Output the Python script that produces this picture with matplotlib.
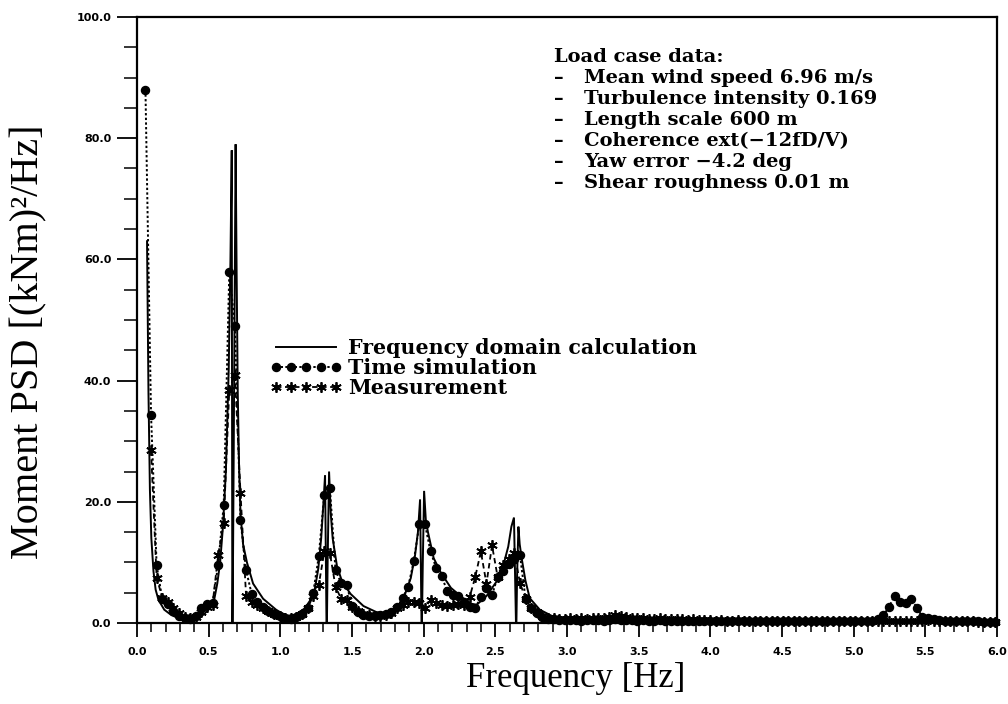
import numpy as np
import matplotlib
matplotlib.use("Agg")
import matplotlib.pyplot as plt
from matplotlib.ticker import MultipleLocator, FormatStrFormatter
from matplotlib.lines import Line2D

# ---------------- data ----------------
# frequency-domain calculation (solid line)
f_fd = [0.070, 0.080, 0.090, 0.100, 0.115, 0.130, 0.150, 0.190, 0.240, 0.290,
        0.350, 0.400, 0.450, 0.500, 0.535, 0.560, 0.580, 0.600, 0.620, 0.640,
        0.652, 0.661, 0.665, 0.667, 0.672, 0.680, 0.688, 0.695, 0.703, 0.712,
        0.722, 0.740, 0.767, 0.810, 0.880, 0.970, 1.040, 1.100, 1.170, 1.210,
        1.240, 1.265, 1.285, 1.300, 1.312, 1.322, 1.325, 1.330, 1.340, 1.352,
        1.365, 1.395, 1.430, 1.490, 1.580, 1.670, 1.760, 1.820, 1.860, 1.910,
        1.940, 1.960, 1.975, 1.985, 1.988, 1.994, 2.003, 2.015, 2.030, 2.070,
        2.120, 2.190, 2.270, 2.330, 2.370, 2.440, 2.510, 2.550, 2.590, 2.612,
        2.630, 2.644, 2.647, 2.652, 2.661, 2.670, 2.685, 2.710, 2.740, 2.810,
        2.900, 3.000, 3.300, 3.700, 4.200, 5.000, 5.500, 6.000]
v_fd = [63.0, 38.0, 22.0, 14.0, 8.5, 5.5, 3.8, 2.2, 1.3, 0.8,
        0.5, 0.7, 1.1, 2.2, 3.4, 6.5, 10.0, 16.0, 25.0, 42.0,
        60.0, 78.0, 0.0, 0.0, 18.0, 48.0, 79.0, 58.0, 38.0, 26.0,
        18.0, 13.0, 10.0, 6.5, 4.0, 2.2, 1.2, 1.3, 2.4, 3.8,
        5.5, 9.0, 14.0, 19.5, 24.4, 0.0, 0.0, 10.0, 25.0, 18.0,
        14.0, 9.4, 6.9, 4.8, 2.8, 1.8, 1.6, 2.6, 4.1, 7.4,
        11.2, 15.0, 20.4, 0.0, 0.0, 10.0, 21.8, 17.0, 15.0, 10.7,
        8.3, 5.8, 4.2, 3.2, 3.0, 4.5, 6.9, 9.0, 12.6, 15.9,
        17.4, 0.0, 0.0, 8.0, 15.9, 13.0, 10.5, 7.0, 4.1, 2.2,
        1.1, 0.7, 0.5, 0.4, 0.3, 0.3, 0.3, 0.2]

# spectral bins (Hz) shared by time simulation and measurement
f_bins = [0.059, 0.098, 0.137, 0.176, 0.215, 0.254, 0.293, 0.332, 0.371, 0.410,
          0.449, 0.488, 0.527, 0.566, 0.605, 0.644, 0.683, 0.722, 0.761, 0.800,
          0.839, 0.878, 0.917, 0.956, 0.995, 1.034, 1.073, 1.112, 1.151, 1.190,
          1.229, 1.268, 1.307, 1.346, 1.385, 1.424, 1.463, 1.502, 1.541, 1.580,
          1.619, 1.658, 1.697, 1.736, 1.775, 1.814, 1.853, 1.892, 1.931, 1.970,
          2.009, 2.048, 2.087, 2.126, 2.165, 2.204, 2.243, 2.282, 2.321, 2.360,
          2.399, 2.438, 2.477, 2.516, 2.555, 2.594, 2.633, 2.672, 2.711, 2.750,
          2.789, 2.828, 2.867, 2.906, 2.945, 2.984, 3.023, 3.062, 3.101, 3.140,
          3.179, 3.218, 3.257, 3.296, 3.335, 3.374, 3.413, 3.452, 3.491, 3.530,
          3.569, 3.608, 3.647, 3.686, 3.725, 3.764, 3.803, 3.842, 3.881, 3.920,
          3.959, 3.998, 4.037, 4.076, 4.115, 4.154, 4.193, 4.232, 4.271, 4.310,
          4.349, 4.388, 4.427, 4.466, 4.505, 4.544, 4.583, 4.622, 4.661, 4.700,
          4.739, 4.778, 4.817, 4.856, 4.895, 4.934, 4.973, 5.012, 5.051, 5.090,
          5.129, 5.168, 5.207, 5.246, 5.285, 5.324, 5.363, 5.402, 5.441, 5.480,
          5.519, 5.558, 5.597, 5.636, 5.675, 5.714, 5.753, 5.792, 5.831, 5.870,
          5.909, 5.948, 5.987]

# time simulation (dots), one value per bin
v_ts = [88.0, 34.3, 9.5, 4.0, 3.2, 2.0, 1.2, 0.8, 0.7, 1.2,
        2.4, 3.2, 3.3, 9.6, 19.5, 58.0, 49.0, 17.0, 8.7, 4.8,
        3.5, 2.6, 2.0, 1.5, 1.1, 0.8, 0.7, 1.0, 1.5, 2.5,
        4.9, 11.0, 21.2, 22.2, 8.7, 6.6, 6.2, 2.8, 1.8, 1.4,
        1.2, 1.2, 1.3, 1.5, 1.8, 2.6, 4.1, 6.0, 10.2, 16.3,
        16.3, 11.8, 9.1, 7.7, 5.2, 4.7, 4.4, 3.5, 2.7, 2.5,
        4.3, 5.8, 4.6, 7.6, 8.5, 9.8, 10.5, 11.2, 3.9, 2.4,
        1.6, 1.0, 0.7, 0.6, 0.5, 0.5, 0.5, 0.5, 0.4, 0.5,
        0.5, 0.5, 0.4, 0.5, 0.6, 0.5, 0.5, 0.5, 0.4, 0.5,
        0.4, 0.4, 0.5, 0.4, 0.4, 0.4, 0.4, 0.4, 0.3, 0.4,
        0.4, 0.3, 0.4, 0.3, 0.3, 0.4, 0.3, 0.3, 0.3, 0.3,
        0.3, 0.3, 0.3, 0.3, 0.3, 0.3, 0.3, 0.3, 0.3, 0.3,
        0.3, 0.3, 0.3, 0.3, 0.3, 0.3, 0.3, 0.3, 0.3, 0.3,
        0.4, 0.6, 1.3, 2.6, 4.5, 3.4, 3.3, 4.0, 2.5, 1.0,
        0.8, 0.6, 0.5, 0.4, 0.4, 0.3, 0.3, 0.3, 0.3, 0.3,
        0.2, 0.2, 0.2]

# measurement (stars), starts at the second bin
v_ms = [28.5, 7.5, 4.2, 3.5, 2.4, 1.6, 1.0, 0.8, 1.0, 1.8,
        2.6, 3.0, 11.2, 16.5, 38.5, 41.0, 21.5, 4.5, 3.4, 3.0,
        2.5, 2.0, 1.5, 1.2, 0.9, 0.8, 1.0, 1.5, 2.4, 4.5,
        6.3, 11.8, 11.5, 6.0, 4.0, 3.8, 2.6, 2.0, 1.5, 1.3,
        1.2, 1.2, 1.4, 1.7, 2.4, 3.0, 3.5, 3.4, 3.3, 2.5,
        3.8, 3.3, 3.0, 2.8, 3.0, 3.2, 3.0, 4.3, 7.6, 11.8,
        6.5, 12.8, 7.6, 9.6, 10.5, 11.5, 6.6, 4.0, 2.5, 1.8,
        1.2, 0.9, 0.8, 0.7, 0.7, 0.8, 0.7, 0.8, 0.7, 0.8,
        0.9, 0.8, 1.0, 1.3, 1.2, 1.0, 0.9, 0.8, 0.8, 0.7,
        0.7, 0.8, 0.6, 0.7, 0.6, 0.6, 0.5, 0.6, 0.5, 0.5,
        0.5, 0.4, 0.5, 0.4, 0.4, 0.5, 0.4, 0.4, 0.4, 0.4,
        0.4, 0.4, 0.4, 0.3, 0.4, 0.3, 0.4, 0.3, 0.3, 0.4,
        0.3, 0.3, 0.3, 0.3, 0.3, 0.4, 0.3, 0.3, 0.3, 0.3,
        0.4, 0.4, 0.4, 0.4, 0.4, 0.3, 0.4, 0.4, 0.4, 0.5,
        0.4, 0.3, 0.3, 0.3, 0.3, 0.3, 0.3, 0.3, 0.2, 0.2,
        0.2, 0.2]

series_labels = ["Frequency domain calculation", "Time simulation", "Measurement"]
load_case_title = "Load case data:"
load_case_items = ["Mean wind speed 6.96 m/s",
                   "Turbulence intensity 0.169",
                   "Length scale 600 m",
                   "Coherence ext(\u221212fD/V)",
                   "Yaw error \u22124.2 deg",
                   "Shear roughness 0.01 m"]
x_label = "Frequency [Hz]"
y_label = "Moment PSD [(kNm)\u00b2/Hz]"

# ---------------- figure ----------------
W, H = 1008, 704
fig = plt.figure(figsize=(W / 100, H / 100), dpi=100)
L, R, T, B = 137, 997, 17, 623
ax = fig.add_axes([L / W, (H - B) / H, (R - L) / W, (B - T) / H])

f_ms = f_bins[1:]
ax.plot(f_fd, v_fd, color="black", lw=1.4, solid_joinstyle="miter",
        label=series_labels[0], clip_on=False, zorder=3)
ax.plot(f_ms, v_ms, color="black", lw=1.3, ls=(0, (3, 2)),
        marker=(6, 2, 0), ms=7.5, mew=1.3,
        label=series_labels[2], clip_on=False, zorder=4)
ax.plot(f_bins, v_ts, color="black", lw=1.4, ls=(0, (1.2, 1.2)),
        marker="o", ms=5.8, label=series_labels[1], clip_on=False, zorder=5)

ax.set_xlim(0, 6)
ax.set_ylim(0, 100)

for s in ax.spines.values():
    s.set_linewidth(1.6)

ax.xaxis.set_major_locator(MultipleLocator(0.5))
ax.xaxis.set_minor_locator(MultipleLocator(0.1))
ax.yaxis.set_major_locator(MultipleLocator(20))
ax.yaxis.set_minor_locator(MultipleLocator(5))
ax.xaxis.set_major_formatter(FormatStrFormatter("%.1f"))
ax.yaxis.set_major_formatter(FormatStrFormatter("%.1f"))
ax.tick_params(axis="x", which="major", direction="out", length=10, width=1.3, pad=7)
ax.tick_params(axis="x", which="minor", direction="out", length=6.5, width=1.1)
ax.tick_params(axis="y", which="major", direction="out", length=14.5, width=1.3, pad=4)
ax.tick_params(axis="y", which="minor", direction="out", length=9.5, width=1.1)
for lab in ax.get_xticklabels() + ax.get_yticklabels():
    lab.set_fontfamily("DejaVu Sans")
    lab.set_fontweight("bold")
    lab.set_fontsize(8)

ax.set_xlabel(x_label, fontdict=dict(family="Liberation Serif", size=25))
ax.set_ylabel(y_label, fontdict=dict(family="Liberation Serif", size=29))
ax.xaxis.set_label_coords((576 - L) / (R - L), (B - 662) / (B - T))
ax.yaxis.set_label_coords((47 - L) / (R - L), (B - 342) / (B - T))

# legend
handles = [Line2D([], [], color="black", lw=1.4),
           Line2D([], [], color="black", lw=1.4, ls=(0, (1.2, 1.2)), marker="o", ms=5.8),
           Line2D([], [], color="black", lw=1.3, ls=(0, (3, 2)), marker=(6, 2, 0), ms=7.5, mew=1.3)]
leg = ax.legend(handles, [series_labels[0], series_labels[1], series_labels[2]],
                loc="upper left",
                bbox_to_anchor=((270 - L) / (R - L), (B - 338) / (B - T)),
                numpoints=5, frameon=False,
                prop=dict(family="DejaVu Serif", size=14.8, weight="bold"),
                handlelength=3.5, handletextpad=0.3, labelspacing=0.0,
                borderpad=0, borderaxespad=0)

# load case annotation
tf = dict(family="DejaVu Serif", size=14, weight="bold")
line_y = [57, 78, 99, 120, 141, 162, 183]
ax.text((554 - L) / (R - L), (B - line_y[0]) / (B - T), load_case_title,
        transform=ax.transAxes, va="center", ha="left", fontdict=tf)
for i, item in enumerate(load_case_items):
    yy = (B - line_y[i + 1]) / (B - T)
    ax.text((554 - L) / (R - L), yy, "\u2013", transform=ax.transAxes,
            va="center", ha="left", fontdict=tf)
    ax.text((584 - L) / (R - L), yy, item, transform=ax.transAxes,
            va="center", ha="left", fontdict=tf)

fig.savefig("out.png", dpi=100)
